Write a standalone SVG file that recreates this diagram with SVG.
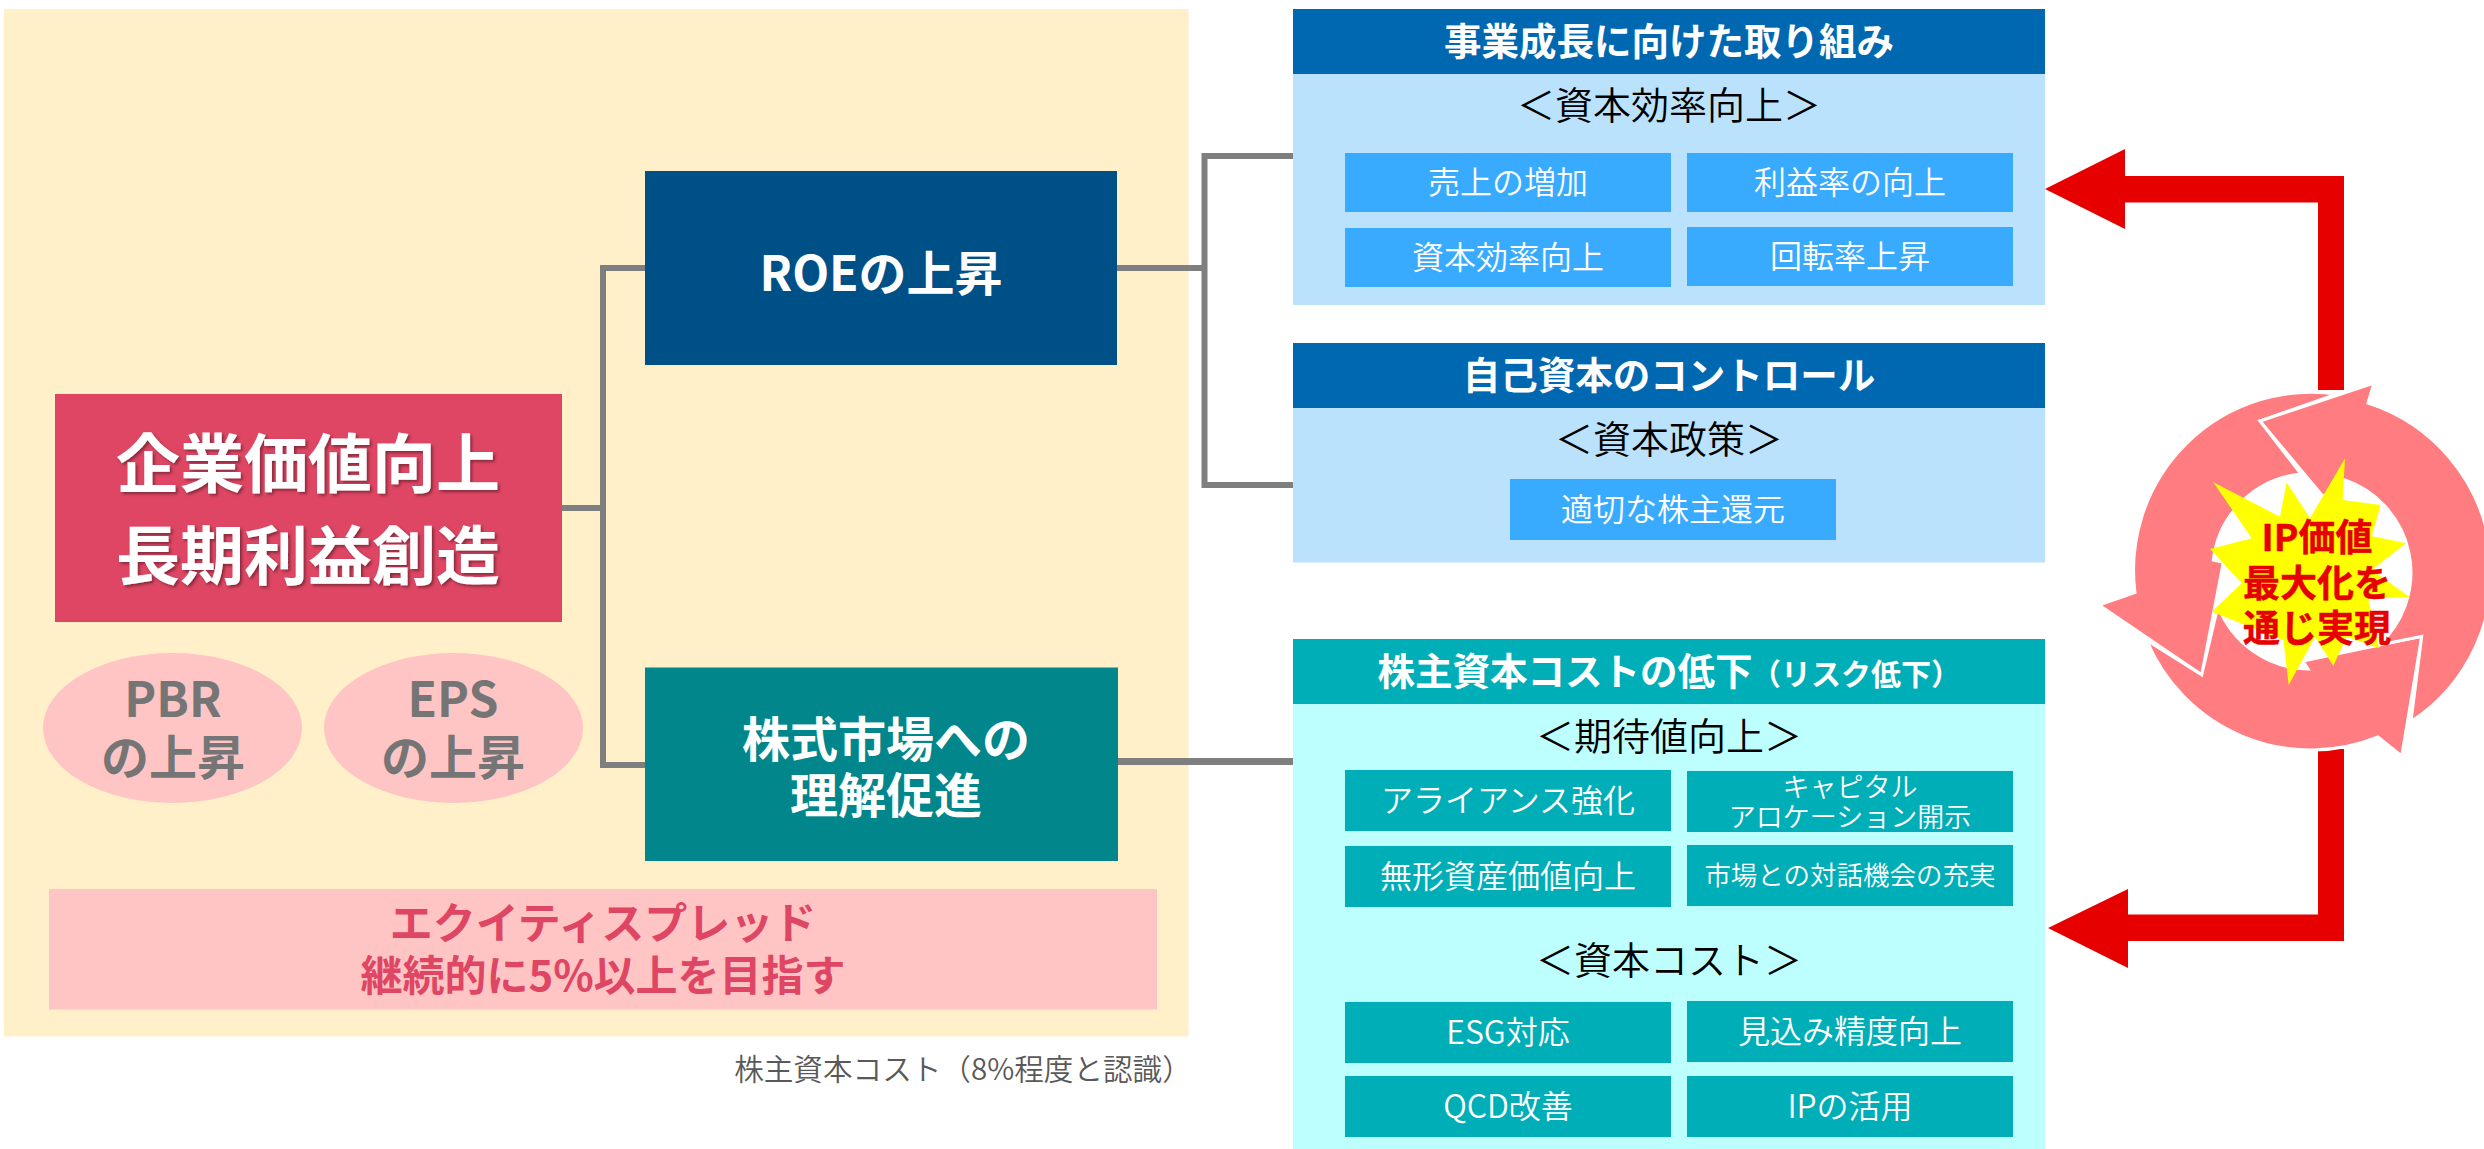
<svg xmlns="http://www.w3.org/2000/svg" width="2484" height="1149" viewBox="0 0 2484 1149">
<style>
text{font-family:"Noto Sans CJK JP","Noto Sans",sans-serif;text-anchor:middle}
.b{font-weight:700}
.w{fill:#fff;font-weight:350}
.hd{font-size:37.500px;font-weight:700;fill:#fff}
.sub{font-size:38px;font-weight:350;fill:#000}
.it{font-size:32px;font-weight:350;fill:#fff}
.blue{fill:#38ABFF}
.tl{fill:#00AEB8}
.ph{fill:#0068B0}
.pb{fill:#BBE2FD}
.pt{fill:#BDFFFF}
.ell{fill:#FFC5C5}
.eltx{font-size:48px;font-weight:700;fill:#757575}
.conn{fill:none;stroke:#7F7F7F;stroke-width:6}
.cyc{fill:#FF7C80;stroke:#fff;stroke-width:3;stroke-linejoin:miter}
</style>
<defs>
<filter id="sh" x="-10%" y="-10%" width="120%" height="130%"><feDropShadow dx="2" dy="2" stdDeviation="1.5" flood-color="#000" flood-opacity="0.4"/></filter>
</defs>
<rect id="backdrop" x="4" y="9" width="1184.500" height="1027.500" fill="#FFF0C9"/>
<g id="connectors">
<path class="conn" d="M562 508H603M645 268H603V765H645"/>
<path class="conn" d="M1117 268H1204.500M1293 156H1204.500V485H1293"/>
<path class="conn" style="stroke-width:7" d="M1118 761.500H1293"/>
</g>
<g id="feedback-arrows" fill="#E60000">
<path d="M2344 390V176H2125V149L2045 189L2125 229V202.500H2318V390Z"/>
<path d="M2344 749V941H2128V968L2048 928L2128 889V914.500H2318V749Z"/>
</g>
<g id="main"><rect x="55" y="394" width="507" height="228" fill="#DE4663"/>
<g filter="url(#sh)" font-size="64" fill="#fff" font-weight="700"><text x="308" y="487">企業価値向上</text><text x="308" y="579">長期利益創造</text></g></g>
<g id="pbr"><ellipse class="ell" cx="172.500" cy="728" rx="129.500" ry="75"/><text class="eltx" x="173" y="717">PBR</text><text class="eltx" x="173" y="775">の上昇</text></g>
<g id="eps"><ellipse class="ell" cx="453.500" cy="728" rx="129.500" ry="75"/><text class="eltx" x="453" y="717">EPS</text><text class="eltx" x="453" y="775">の上昇</text></g>
<g id="roe"><rect x="645" y="171" width="472" height="194" fill="#005088"/><text font-weight="700" fill="#fff" font-size="48" x="881" y="291">ROEの上昇</text></g>
<g id="market"><rect x="645" y="667.500" width="473" height="193.500" fill="#00868B"/><text font-weight="700" fill="#fff" font-size="48" x="886" y="756.500">株式市場への</text><text font-weight="700" fill="#fff" font-size="48" x="886" y="813">理解促進</text></g>
<g id="spread"><rect x="49" y="889" width="1108" height="120.500" class="ell"/><text class="b" font-size="43" fill="#DE4663" x="603" y="939">エクイティスプレッド</text><text class="b" font-size="42" fill="#DE4663" x="603" y="991">継続的に5%以上を目指す</text></g>
<text id="caption" x="963" y="1080" font-size="29.600" font-weight="350" fill="#595959">株主資本コスト（8%程度と認識）</text>
<g id="panel-growth"><rect class="pb" x="1293" y="9" width="752" height="296"/><rect class="ph" x="1293" y="9" width="752" height="65"/>
<text class="hd" x="1669" y="55">事業成長に向けた取り組み</text><text class="sub" x="1669" y="119">＜資本効率向上＞</text>
<rect class="blue" x="1345" y="153" width="326" height="59"/><text class="it" x="1508" y="194">売上の増加</text>
<rect class="blue" x="1687" y="153" width="326" height="59"/><text class="it" x="1850" y="194">利益率の向上</text>
<rect class="blue" x="1345" y="228" width="326" height="59"/><text class="it" x="1508" y="269">資本効率向上</text>
<rect class="blue" x="1687" y="227" width="326" height="59"/><text class="it" x="1850" y="268">回転率上昇</text></g>
<g id="panel-equity"><rect class="pb" x="1293" y="343" width="752" height="219.500"/><rect class="ph" x="1293" y="343" width="752" height="65"/>
<text class="hd" x="1669" y="389">自己資本のコントロール</text><text class="sub" x="1669" y="453">＜資本政策＞</text>
<rect class="blue" x="1510" y="479" width="326" height="61"/><text class="it" x="1673" y="521">適切な株主還元</text></g>
<g id="panel-cost"><rect class="pt" x="1293" y="639" width="752" height="510"/><rect class="tl" x="1293" y="639" width="752" height="65"/>
<text class="hd" x="1565" y="685">株主資本コストの低下</text><text x="1856" y="685" font-size="30" font-weight="700" fill="#fff">（リスク低下）</text>
<text class="sub" x="1669" y="750">＜期待値向上＞</text>
<rect class="tl" x="1345" y="770" width="326" height="61"/><text class="it" x="1508" y="812">アライアンス強化</text>
<rect class="tl" x="1687" y="771" width="326" height="61"/><text class="w" font-size="27" x="1850" y="797">キャピタル</text><text class="w" font-size="27" x="1850" y="827">アロケーション開示</text>
<rect class="tl" x="1345" y="846" width="326" height="61"/><text class="it" x="1508" y="888">無形資産価値向上</text>
<rect class="tl" x="1687" y="845" width="326" height="61"/><text class="w" font-size="26.500" x="1850" y="885">市場との対話機会の充実</text>
<text class="sub" x="1669" y="974">＜資本コスト＞</text>
<rect class="tl" x="1345" y="1002" width="326" height="61"/><text class="it" x="1508" y="1044">ESG対応</text>
<rect class="tl" x="1687" y="1001" width="326" height="61"/><text class="it" x="1850" y="1043">見込み精度向上</text>
<rect class="tl" x="1345" y="1076" width="326" height="61"/><text class="it" x="1508" y="1118">QCD改善</text>
<rect class="tl" x="1687" y="1076" width="326" height="61"/><text class="it" x="1850" y="1118">IPの活用</text></g>
<g id="cycle">
<path class="cyc" d="M2337 394L2260 421L2301 474A98 98 0 0 0 2213.300 560L2223.300 562.400L2201.700 674.800L2099 605L2135 592.600A178 178 0 0 1 2337 394Z"/>
<path class="cyc" d="M2146.700 640.300A178 178 0 0 0 2378 737L2401.700 756L2421.700 636.400L2303 661L2308 669A98 98 0 0 1 2218 606L2201.700 674.800Z"/>
<path class="cyc" d="M2411 721.500A178 178 0 0 0 2368 403L2374 383L2260 421L2323 496.500L2345 480A98 98 0 0 1 2379 645L2421.700 636.400Z"/>
</g>
<g id="burst">
<polygon fill="#FFFF00" points="2345,458.300 2342.700,500 2380.700,505 2371.700,536 2406,543.300 2371.700,570 2410,597.300 2368.300,598.300 2379,648.300 2346.700,636.700 2333.300,666 2315,636.700 2288.700,685 2283.300,640 2211.700,611.700 2241.700,583.300 2210,549 2251.700,538.300 2213.300,482.300 2280,516.700 2286.700,482.300 2310,518.300"/>
<g class="b" font-size="37" fill="#E60000" stroke="#E60000" stroke-width="0.5"><text x="2317" y="551">IP価値</text><text x="2317" y="597">最大化を</text><text x="2317" y="642">通じ実現</text></g>
</g>
</svg>
